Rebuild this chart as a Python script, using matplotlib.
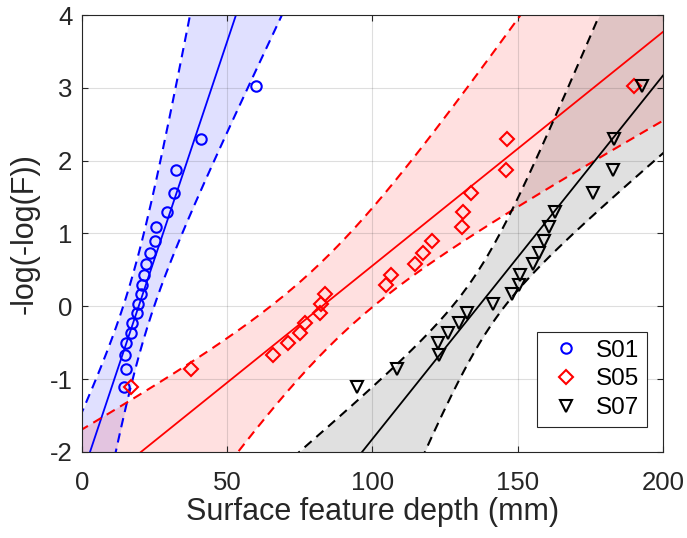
import numpy as np
import matplotlib
matplotlib.use('Agg')
import matplotlib.pyplot as plt

plt.rcParams['font.family'] = ['Liberation Sans', 'DejaVu Sans']
plt.rcParams['axes.unicode_minus'] = False

# reduced variate -log(-log(F)) of the 20 ranked samples
reduced = [-1.113, -0.855, -0.666, -0.506, -0.361, -0.225, -0.094, 0.036, 0.166, 0.298,
           0.436, 0.581, 0.735, 0.903, 1.089, 1.302, 1.554, 1.870, 2.302, 3.020]

depth_s01 = [14.3, 15.0, 14.9, 15.0, 16.9, 17.2, 19.0, 19.2, 20.4, 20.5,
             21.3, 22.0, 23.5, 25.2, 25.6, 29.3, 31.8, 32.2, 41.0, 59.9]
depth_s05 = [16.8, 37.5, 65.9, 70.8, 75.0, 76.8, 81.9, 82.2, 83.6, 104.6,
             106.3, 114.6, 117.5, 120.6, 130.8, 131.3, 133.8, 146.0, 146.4, 190.0]
depth_s07 = [94.8, 108.5, 122.9, 122.7, 126.1, 129.7, 132.4, 141.6, 148.2, 150.4,
             150.8, 155.1, 157.4, 159.1, 160.8, 162.9, 176.0, 182.9, 183.1, 192.7]

# fitted line depth = loc + scale * y
fit_s01 = (19.5, 8.375)
fit_s05 = (82.6, 31.15)
fit_s07 = (136.5, 20.04)

# confidence band half-width^2 = c0 + c1*y + c2*y^2 (in depth)
band_s01 = (28.4, 1.83, 13.4)
band_s05 = (313.0, -30.3, 185.6)
band_s07 = (81.2, -11.7, 90.6)

series = [
    ('S01', depth_s01, fit_s01, band_s01, 'blue', 'o', 7.5),
    ('S05', depth_s05, fit_s05, band_s05, 'red', 'D', 6.8),
    ('S07', depth_s07, fit_s07, band_s07, 'black', 'v', 8),
]

fig = plt.figure(figsize=(6.87, 5.38), dpi=100)
ax = fig.add_axes([0.1194, 0.160, 0.8456, 0.812])

yy = np.linspace(-2.5, 4.5, 300)
for name, depth, fit, band, col, mk, ms in series:
    xc = fit[0] + fit[1] * yy
    h = np.sqrt(band[0] + band[1] * yy + band[2] * yy ** 2)
    ax.fill_betweenx(yy, xc - h, xc + h, color=col, alpha=0.12, lw=0)
    ax.plot(xc, yy, '-', color=col, lw=1.3)
    ax.plot(xc - h, yy, color=col, lw=1.5, dashes=(4.5, 3))
    ax.plot(xc + h, yy, color=col, lw=1.5, dashes=(4.5, 3))

handles = []
for name, depth, fit, band, col, mk, ms in series:
    hd, = ax.plot(depth, reduced, mk, mfc='none', mec=col, mew=1.5, ms=ms,
                  linestyle='none', label=name)
    handles.append(hd)

ax.set_xlim(0, 200)
ax.set_ylim(-2, 4)
ax.set_xticks([0, 50, 100, 150, 200])
ax.set_yticks([-2, -1, 0, 1, 2, 3, 4])
ax.grid(True, color='#262626', alpha=0.15, lw=0.8)
ax.tick_params(direction='in', top=True, right=True, labelsize=18.5,
               colors='#262626', length=4)
ax.tick_params(axis='x', pad=14)
ax.tick_params(axis='y', pad=7)
for s in ax.spines.values():
    s.set_color('#262626')
    s.set_linewidth(0.8)

ax.set_xlabel('Surface feature depth (mm)', fontsize=22, color='#262626', labelpad=1)
ax.set_ylabel('-log(-log(F))', fontsize=22, color='#262626', labelpad=7)

leg = ax.legend(handles=handles, loc='lower right', bbox_to_anchor=(0.9725, 0.0572),
                borderaxespad=0, fontsize=17.5, fancybox=False,
                edgecolor='#262626', framealpha=1, handlelength=1.7,
                handletextpad=0.4, labelspacing=0.28, borderpad=0.32)
leg.get_frame().set_linewidth(0.8)

fig.savefig('out.png', dpi=100)
